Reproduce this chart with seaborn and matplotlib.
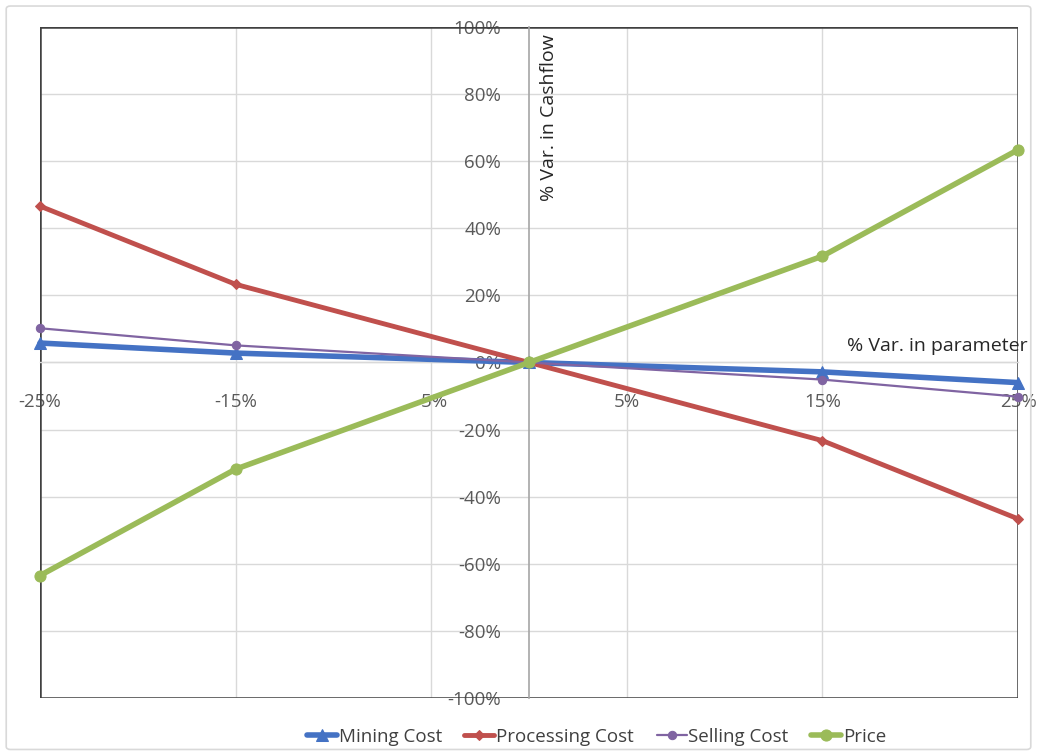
import matplotlib
matplotlib.use("Agg")
import matplotlib.pyplot as plt
from matplotlib.patches import FancyBboxPatch
from matplotlib.ticker import FuncFormatter
import seaborn as sns
import pandas as pd

# Sensitivity of cashflow to each parameter (% variation)
param_var = [-25, -15, 0, 15, 25]
mining_cost = [5.8, 2.8, 0.0, -2.8, -6.0]
processing_cost = [46.6, 23.3, 0.0, -23.3, -46.6]
selling_cost = [10.2, 5.1, 0.0, -5.1, -10.2]
price = [-63.5, -31.8, 0.0, 31.7, 63.4]

x_ticks = [-25, -15, -5, 5, 15, 25]
y_ticks = list(range(-100, 101, 20))

sns.set_theme(style="white")
plt.rcParams["font.family"] = ["Open Sans", "DejaVu Sans"]

fig = plt.figure(figsize=(10.37, 7.54), dpi=100)
ax = fig.add_axes([0.0386, 0.0743, 0.9431, 0.8899])

# outer chart frame
fig.patches.append(FancyBboxPatch((0.006, 0.006), 0.988, 0.986,
                                  boxstyle="round,pad=0,rounding_size=0.004",
                                  transform=fig.transFigure, fill=False,
                                  edgecolor="#d9d9d9", lw=1.2, zorder=0))

series = [
    ("Mining Cost", mining_cost, "#4472C4", "^", 4.0, 8),
    ("Processing Cost", processing_cost, "#C0504D", "D", 3.5, 5),
    ("Selling Cost", selling_cost, "#8064A2", "o", 1.6, 6),
    ("Price", price, "#9BBB59", "o", 4.0, 8),
]
for name, vals, col, mk, lw, ms in series:
    df = pd.DataFrame({"x": param_var, "y": vals})
    sns.lineplot(data=df, x="x", y="y", ax=ax, color=col, lw=lw, marker=mk,
                 markersize=ms, markeredgecolor=col, label=name, zorder=3,
                 clip_on=False)

ax.set_xlim(-25, 25)
ax.set_ylim(-100, 100)
ax.set_xticks(x_ticks)
ax.set_yticks(y_ticks)
ax.xaxis.set_major_formatter(FuncFormatter(lambda v, p: f"{v:.0f}%"))
ax.yaxis.set_major_formatter(FuncFormatter(lambda v, p: f"{v:.0f}%"))
ax.grid(True, color="#d9d9d9", lw=1.0)
ax.set_xlabel("")
ax.set_ylabel("")

# axes cross at the origin
ax.spines["left"].set_position(("data", 0))
ax.spines["bottom"].set_position(("data", 0))
ax.spines["left"].set_color("#a6a6a6")
ax.spines["bottom"].set_color("#d9d9d9")
ax.spines["left"].set_linewidth(1.2)
ax.spines["bottom"].set_linewidth(1.0)
ax.spines["top"].set_visible(False)
ax.spines["right"].set_visible(False)
for v in (-25, 25):
    ax.axvline(v, color="#404040", lw=1.8, zorder=2)
for v in (-100, 100):
    ax.axhline(v, color="#404040", lw=1.8, zorder=2)

ax.tick_params(axis="both", length=0, labelsize=13.5, labelcolor="#595959")
ax.tick_params(axis="x", pad=22)
ax.tick_params(axis="y", pad=20)
for lbl in ax.get_xticklabels() + ax.get_yticklabels():
    lbl.set_zorder(1)

ax.text(1.0, 98, "% Var. in Cashflow", rotation=90, ha="center", va="top",
        fontsize=14, color="#262626")
ax.text(25.5, 5, "% Var. in parameter", ha="right", va="center",
        fontsize=14, color="#262626", clip_on=False)

ax.legend(loc="center", bbox_to_anchor=(0.569, -0.058), ncol=4,
          frameon=False, fontsize=13.5, handlelength=1.6, columnspacing=1.2,
          handletextpad=0.1, labelcolor="#404040", borderpad=0.1)

fig.savefig("out.png", dpi=100)
